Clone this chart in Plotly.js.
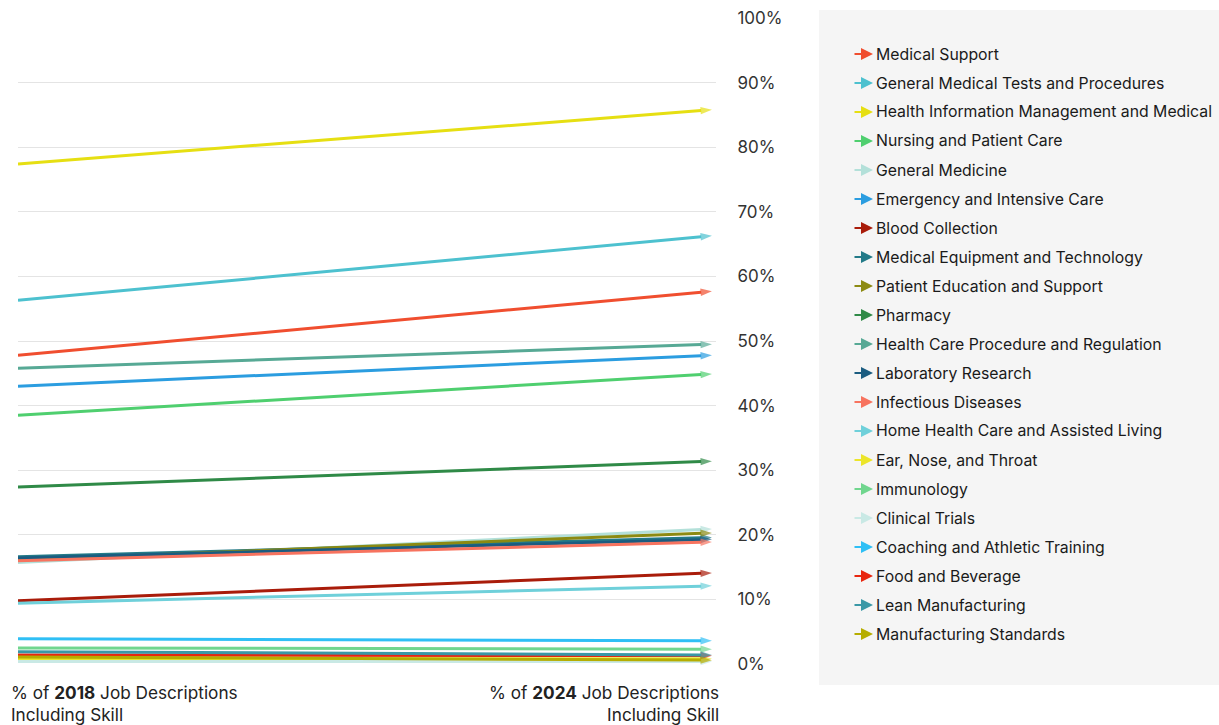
<!DOCTYPE html>
<html>
<head>
<meta charset="utf-8">
<script src="https://cdn.plot.ly/plotly-3.0.1.min.js"></script>
<style>html,body{margin:0;padding:0;background:#fff;}#chart{width:1219px;height:725px;}</style>
</head>
<body>
<div id="chart"></div>
<script>
const years = [2018, 2024];
const skills = [
  "Medical Support",
  "General Medical Tests and Procedures",
  "Health Information Management and Medical",
  "Nursing and Patient Care",
  "General Medicine",
  "Emergency and Intensive Care",
  "Blood Collection",
  "Medical Equipment and Technology",
  "Patient Education and Support",
  "Pharmacy",
  "Health Care Procedure and Regulation",
  "Laboratory Research",
  "Infectious Diseases",
  "Home Health Care and Assisted Living",
  "Ear, Nose, and Throat",
  "Immunology",
  "Clinical Trials",
  "Coaching and Athletic Training",
  "Food and Beverage",
  "Lean Manufacturing",
  "Manufacturing Standards"
];
const pct2018 = [47.8, 56.3, 77.4, 38.5, 15.7, 43.0, 9.8, 16.6, 16.1, 27.4, 45.8, 16.4, 16.0, 9.4, 0.8, 2.5, 0.4, 3.9, 1.4, 1.9, 1.1];
const pct2024 = [57.7, 66.3, 85.8, 44.9, 20.9, 47.8, 14.1, 19.6, 20.3, 31.4, 49.5, 19.3, 18.9, 12.1, 0.8, 2.3, 0.4, 3.6, 1.3, 1.4, 0.6];
const colors = ["#f04e2f","#4dc1cf","#e6df12","#4fcf6f","#b3e0d9","#2b9de0","#a91c0a","#237a88","#8c8a12","#2f8a47","#57a995","#1b5c80","#f7735f","#6fd0da","#ece52a","#70d68e","#c9e9e5","#2fbff5","#e8260f","#3a98a6","#b6ad00"];
const yTicks = [0,10,20,30,40,50,60,70,80,90,100];
const yTickText = yTicks.map(v => v + "%");

const W = 1219, H = 725;
const M = {l: 18, r: 503, t: 17, b: 60};
const PW = W - M.l - M.r, PH = H - M.t - M.b;
const px2x = p => (p - M.l) / PW;
const px2y = p => (H - M.b - p) / PH;

const traces = skills.map((name, i) => ({
  type: "scatter",
  mode: "lines+markers",
  name: name,
  x: years,
  y: [pct2018[i], pct2024[i]],
  line: {color: colors[i], width: 3},
  marker: {symbol: "arrow", angleref: "previous", size: [0, 12], color: colors[i], line: {width: 0}},
  cliponaxis: false,
  hoverinfo: "name+y"
}));

// Legend built from annotations (arrow + label)
const legendAnn = [];
skills.forEach((name, i) => {
  const yc = 54 + 29 * i;
  legendAnn.push({
    xref: "paper", yref: "paper", x: px2x(873), y: px2y(yc),
    ax: -20, ay: 0, text: "", showarrow: true,
    arrowcolor: colors[i], arrowwidth: 2, arrowhead: 2, arrowsize: 1.2, standoff: 0, startstandoff: 0
  });
  legendAnn.push({
    xref: "paper", yref: "paper", x: px2x(874), y: px2y(yc),
    xanchor: "left", yanchor: "middle", text: name, showarrow: false,
    font: {size: 15.8, color: "#1a1a1a"}
  });
});

const layout = {
  width: W, height: H,
  margin: M,
  paper_bgcolor: "#ffffff",
  plot_bgcolor: "#ffffff",
  font: {family: "Inter, 'Noto Sans', sans-serif", color: "#222"},
  showlegend: false,
  xaxis: {
    range: [2018, 2024.035], showgrid: false, zeroline: false,
    showticklabels: false, showline: false, fixedrange: true
  },
  yaxis: {
    side: "right", range: [-0.15, 100.15], tickvals: yTicks, ticktext: yTickText,
    showgrid: true, gridcolor: "#e4e4e4", gridwidth: 1, zeroline: false,
    ticks: "outside", ticklen: 17, tickcolor: "rgba(0,0,0,0)",
    tickfont: {size: 17, color: "#333"}, showline: false, fixedrange: true
  },
  shapes: [{
    type: "rect", xref: "paper", yref: "paper",
    x0: px2x(819), x1: px2x(1219), y0: px2y(685), y1: px2y(10),
    fillcolor: "#f5f5f5", line: {width: 0}, layer: "below"
  }],
  annotations: [
    {xref: "paper", yref: "paper", x: px2x(9), y: px2y(680), xanchor: "left", yanchor: "top", align: "left",
     text: "% of <b>2018</b> Job Descriptions<br>Including Skill", showarrow: false, font: {size: 17.2, color: "#222"}},
    {xref: "paper", yref: "paper", x: px2x(721), y: px2y(680), xanchor: "right", yanchor: "top", align: "right",
     text: "% of <b>2024</b> Job Descriptions<br>Including Skill", showarrow: false, font: {size: 17.2, color: "#222"}}
  ].concat(legendAnn)
};

Plotly.newPlot("chart", traces, layout, {displayModeBar: false});
</script>
</body>
</html>
